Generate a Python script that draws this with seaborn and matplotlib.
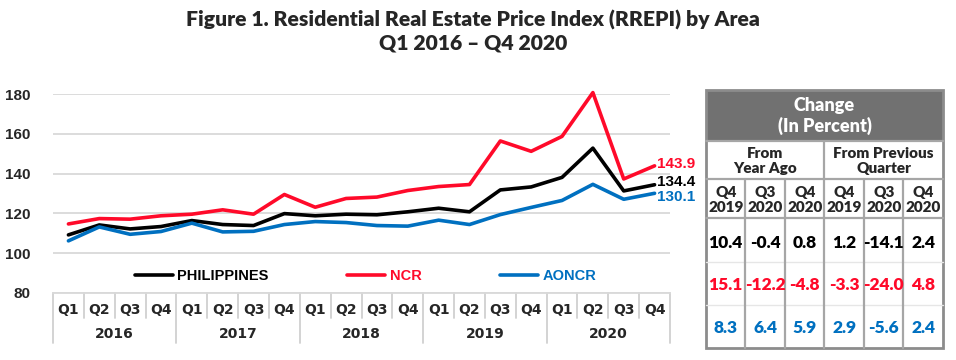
import matplotlib
matplotlib.use("Agg")
import matplotlib.pyplot as plt
import pandas as pd
import seaborn as sns
from matplotlib.patches import Rectangle

# data
areas = ["PHILIPPINES", "NCR", "AONCR"]
quarters = ["Q1", "Q2", "Q3", "Q4"] * 5
years = ["2016", "2017", "2018", "2019", "2020"]

philippines = [109.2, 114.2, 112.2, 113.4, 116.4, 114.4, 113.9, 119.9, 118.8, 119.6,
               119.3, 120.8, 122.6, 120.8, 131.8, 133.3, 138.1, 152.8, 131.3, 134.4]
ncr = [114.7, 117.4, 117.1, 118.8, 119.6, 121.8, 119.6, 129.5, 123.1, 127.5,
       128.2, 131.5, 133.5, 134.5, 156.4, 151.2, 158.7, 180.7, 137.3, 143.9]
aoncr = [106.2, 113.2, 109.5, 110.9, 115.1, 110.7, 111.0, 114.4, 115.9, 115.4,
         113.9, 113.6, 116.6, 114.4, 119.4, 123.0, 126.5, 134.6, 127.1, 130.1]

# percent change table
period_cols = ["Q4\n2019", "Q3\n2020", "Q4\n2020"] * 2
philippines_chg = [10.4, -0.4, 0.8, 1.2, -14.1, 2.4]
ncr_chg = [15.1, -12.2, -4.8, -3.3, -24.0, 4.8]
aoncr_chg = [8.3, 6.4, 5.9, 2.9, -5.6, 2.4]

colors = {"PHILIPPINES": "#000000", "NCR": "#FF0A2A", "AONCR": "#0070C0"}

sns.set_style("white")
plt.rcParams["font.family"] = ["Liberation Sans", "DejaVu Sans"]

n = len(quarters)
df = pd.DataFrame({
    "pos": list(range(n)) * 3,
    "value": philippines + ncr + aoncr,
    "area": [a for a in areas for _ in range(n)],
})

fig = plt.figure(figsize=(9.56, 3.6), dpi=100)
ax = fig.add_axes([53 / 956, 67 / 360, 617 / 956, 199 / 360])

sns.lineplot(data=df, x="pos", y="value", hue="area", hue_order=areas,
             palette=colors, linewidth=2.6, ax=ax)
for ln in ax.lines:
    ln.set_clip_on(False)

ax.set_xlim(-0.5, n - 0.5)
ax.set_ylim(80, 180)
ax.set_yticks(range(80, 181, 20))
ax.yaxis.grid(True, color="#d9d9d9", linewidth=1.3)
ax.set_axisbelow(True)
for s in ["left", "right", "top"]:
    ax.spines[s].set_visible(False)
ax.spines["bottom"].set_color("#d9d9d9")
ax.spines["bottom"].set_linewidth(1.3)
ax.set_xticks([])
ax.set_xlabel("")
ax.set_ylabel("")
ax.tick_params(axis="y", length=0, pad=16, labelsize=11)
plt.setp(ax.get_yticklabels(), fontweight="bold")

# two-level category axis
trans = ax.get_xaxis_transform()
h = 199
for i, q in enumerate(quarters):
    ax.text(i, -17 / h, q, transform=trans, ha="center", va="center",
            fontsize=10, fontweight="bold", family="DejaVu Sans")
for i in range(n + 1):
    bottom = -50 / h if i % 4 == 0 else -25 / h
    ax.plot([i - 0.5, i - 0.5], [0, bottom], transform=trans, color="#d0d0d0",
            lw=1.3, clip_on=False)
for k, yr in enumerate(years):
    ax.text(4 * k + 1.5, -41 / h, yr, transform=trans, ha="center", va="center",
            fontsize=10, fontweight="bold", family="DejaVu Sans")

# end-of-line labels (small nudges keep the two lower ones apart)
nudge = {"PHILIPPINES": 2, "NCR": 1, "AONCR": -2.5}
for name, vals in zip(areas, [philippines, ncr, aoncr]):
    ax.annotate(f"{vals[-1]:.1f}", (n - 1, vals[-1]), xytext=(2, nudge[name]),
                textcoords="offset points", ha="left", va="center",
                color=colors[name], fontsize=11, fontweight="bold",
                annotation_clip=False)

sns.move_legend(ax, "center left", bbox_to_anchor=((135 - 53) / 617, (293 - 276) / 199),
                ncol=3, title=None, frameon=False, columnspacing=5.4,
                handlelength=2.6, handletextpad=0.3, borderaxespad=0, borderpad=0,
                prop={"weight": "bold", "size": 10.5})
for txt, name in zip(ax.get_legend().get_texts(), areas):
    txt.set_color(colors[name])

tfont = ["Lato", "DejaVu Sans"]
fig.text(473 / 956, 1 - 31 / 360,
         "Figure 1. Residential Real Estate Price Index (RREPI) by Area\nQ1 2016 \u2013 Q4 2020",
         ha="center", va="center", fontsize=15.2, fontweight="heavy",
         family=tfont, linespacing=1.25)

# change table, drawn in pixel coordinates
tab = fig.add_axes([0, 0, 1, 1])
tab.set_xlim(0, 956)
tab.set_ylim(360, 0)
tab.axis("off")

col_x = [706, 745.5, 785, 824.5, 864, 903.5, 943]
row_y = [90, 141, 179, 218, 348]
inner = "#a6a6a6"

tab.add_patch(Rectangle((col_x[0], row_y[0]), col_x[-1] - col_x[0], row_y[1] - row_y[0],
                        facecolor="#717171", edgecolor="none"))
for y in row_y[1:4]:
    tab.plot([col_x[0], col_x[-1]], [y, y], color=inner, lw=1.6)
for y in [262, 305]:
    tab.plot([col_x[0], col_x[-1]], [y, y], color="#e6e6e6", lw=1)
tab.plot([col_x[3], col_x[3]], [row_y[1], row_y[-1]], color=inner, lw=1.6)
for x in col_x[1:-1]:
    if x != col_x[3]:
        tab.plot([x, x], [row_y[2], row_y[-1]], color=inner, lw=1.6)
tab.add_patch(Rectangle((col_x[0], row_y[0]), col_x[-1] - col_x[0], row_y[-1] - row_y[0],
                        facecolor="none", edgecolor="#8c8c8c", lw=2))

tab.text((col_x[0] + col_x[-1]) / 2, 116, "Change\n(In Percent)", ha="center", va="center",
         color="white", fontsize=13, fontweight="heavy", family=tfont, linespacing=1.25)
tab.text((col_x[0] + col_x[3]) / 2, 161, "From\nYear Ago", ha="center", va="center",
         fontsize=11, fontweight="heavy", family=tfont, linespacing=1.2)
tab.text((col_x[3] + col_x[-1]) / 2, 161, "From Previous\nQuarter", ha="center", va="center",
         fontsize=11, fontweight="heavy", family=tfont, linespacing=1.2)
for j, lab in enumerate(period_cols):
    cx = (col_x[j] + col_x[j + 1]) / 2
    tab.text(cx, 200, lab, ha="center", va="center", fontsize=11,
             fontweight="heavy", family=tfont, linespacing=1.25)
for ry, name, vals in zip([243, 285, 328], areas, [philippines_chg, ncr_chg, aoncr_chg]):
    for j, v in enumerate(vals):
        cx = (col_x[j] + col_x[j + 1]) / 2
        tab.text(cx, ry, f"{v:.1f}", ha="center", va="center", fontsize=12.5,
                 fontweight="heavy", color=colors[name], family=tfont)

fig.savefig("out.png", dpi=100)
